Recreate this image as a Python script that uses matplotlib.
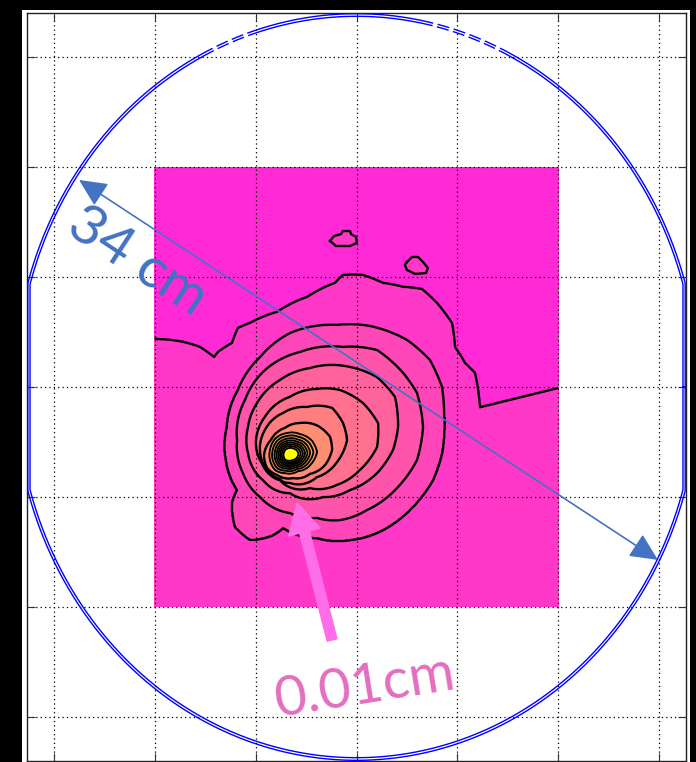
import numpy as np
import matplotlib
matplotlib.use('Agg')
import matplotlib.pyplot as plt
from matplotlib.patches import Rectangle

# ---- values (cm) ----
PEAK = (-3.30, -3.09)          # hot spot
MAP_X = [-10.0, 10.0]
MAP_Y = [-10.0, 10.0]

# lowest contour: open line across the map (left edge -> right edge)
LEVEL1_LINE = [(-9.94, 2.18), (-8.60, 2.05), (-7.76, 1.82), (-7.06, 1.36), (-6.87, 1.59),
               (-6.17, 2.00), (-5.88, 2.68), (-5.28, 2.91), (-3.94, 3.41), (-2.45, 4.09),
               (-1.07, 4.73), (-0.67, 5.09), (0.32, 5.09), (1.31, 4.73), (2.31, 4.55),
               (3.25, 4.45), (3.99, 3.82), (4.73, 2.91), (4.88, 1.82), (5.38, 1.09),
               (5.87, 0.64), (6.12, -0.93)]
LEVEL1_ISLANDS = [
    [(-1.31, 6.64), (-1.12, 6.86), (-0.77, 6.95), (-0.67, 7.09), (-0.32, 7.09), (-0.27, 6.95),
     (-0.02, 6.82), (0.02, 6.55), (-0.32, 6.41), (-1.02, 6.41)],
    [(2.50, 5.68), (2.75, 5.91), (3.05, 5.91), (3.30, 5.68), (3.54, 5.41), (3.45, 5.18),
     (2.90, 5.14), (2.50, 5.32), (2.40, 5.55)],
]
LEVEL2 = [(-0.97, 2.82), (0.67, 2.77), (2.50, 2.14), (3.64, 1.23), (4.24, 0.00), (4.34, -1.18),
          (4.24, -3.00), (3.79, -4.23), (2.80, -5.45), (1.31, -6.50), (-0.32, -6.95),
          (-1.96, -6.86), (-3.64, -6.41), (-4.14, -6.73), (-5.28, -6.95), (-6.02, -6.36),
          (-6.17, -5.27), (-5.92, -4.68), (-6.47, -3.32), (-6.42, -1.82), (-5.88, -0.14),
          (-4.78, 1.36), (-3.30, 2.45)]
LEVEL3 = [(-0.67, 1.82), (1.02, 1.68), (2.31, 0.64), (3.00, -0.27), (3.30, -1.82), (3.00, -3.32),
          (2.01, -4.59), (0.52, -5.59), (-0.82, -6.05), (-1.96, -5.95), (-3.30, -5.73),
          (-4.78, -5.00), (-5.63, -3.91), (-5.92, -2.41), (-5.53, -0.59), (-4.54, 0.77),
          (-2.80, 1.59)]
LEVEL4 = [(-0.32, 0.91), (1.02, 0.45), (1.91, -0.45), (2.06, -1.82), (1.81, -2.86), (1.02, -3.91),
          (-0.32, -4.68), (-1.66, -5.00), (-3.30, -4.82), (-4.64, -4.23), (-5.38, -3.00),
          (-5.38, -1.82), (-4.93, -0.73), (-3.79, 0.32), (-2.31, 0.86)]
LEVEL5 = [(-0.82, -0.14), (0.32, -0.73), (1.07, -1.64), (1.02, -2.73), (0.17, -3.77),
          (-0.97, -4.45), (-2.31, -4.59), (-3.79, -4.23), (-4.69, -3.45), (-4.98, -2.41),
          (-4.54, -1.36), (-3.30, -0.45), (-1.96, -0.09)]
LEVEL6 = [(-1.21, -0.95), (-0.67, -1.64), (-0.47, -2.41), (-0.97, -3.41), (-1.96, -4.09),
          (-3.30, -4.36), (-4.29, -3.91), (-4.78, -3.00), (-4.54, -1.95), (-3.64, -1.18),
          (-2.45, -0.91)]
LEVEL7 = [(-2.80, -1.64), (-1.91, -1.77), (-1.31, -2.27), (-1.21, -2.86), (-1.56, -3.55),
          (-2.31, -3.95), (-3.15, -4.14), (-3.94, -4.00), (-4.44, -3.68), (-4.59, -3.09),
          (-4.24, -2.41), (-3.54, -1.86)]
# tight rings round the hot spot: outer ring + relative sizes of the rings inside it
TIGHT_RING = [(-4.29, -2.86), (-4.04, -2.36), (-3.45, -2.10), (-2.80, -2.15), (-2.21, -2.45),
              (-1.96, -2.95), (-2.21, -3.45), (-2.90, -3.82), (-3.54, -3.91), (-4.04, -3.77),
              (-4.29, -3.32)]
TIGHT_SCALE = [1.0, 0.87, 0.75, 0.65, 0.56, 0.48, 0.40, 0.32]

CIRCLE_R = [16.97, 16.85]       # phantom outline (double line), 34 cm
CIRCLE_XCAP = [16.30, 16.19]
CIRCLE_DASHED_X = [(-7.11, -5.03), (3.79, 7.16)]   # top parts that show as dashed
DIAM_ENDS = [(-13.76, 9.41), (14.95, -7.86)]
DIAM_TEXT = '34 cm'
DIAM_TEXT_XY = (-10.88, 5.68)
SPOT_TAIL = (-1.21, -11.50)
SPOT_TIP = (-2.95, -5.27)
SPOT_TEXT = '0.01cm'
SPOT_TEXT_XY = (0.42, -13.64)

TICKS_X = [-15, -10, -5, 0, 5, 10, 15]
TICKS_Y = [-15, -10, -5, 0, 5, 10, 15]


def ring_radius(pts, th):
    p = np.asarray(pts, dtype=float) - PEAK
    a = np.arctan2(p[:, 1], p[:, 0])
    r = np.hypot(p[:, 0], p[:, 1])
    o = np.argsort(a)
    return np.interp(th, a[o], r[o], period=2 * np.pi)


def open_level(line):
    # close the open line far outside the map so it runs off the map edges
    p = np.asarray(line, dtype=float) - PEAK
    a = np.arctan2(p[:, 1], p[:, 0])
    a0, a1 = a[0], a[-1]
    far_a = np.linspace(a0 + 0.01, a1 + 2 * np.pi - 0.01, 24)
    far = np.c_[80 * np.cos(far_a), 80 * np.sin(far_a)] + PEAK
    return np.vstack([np.asarray(line), far])


gx = np.linspace(MAP_X[0], MAP_X[1], 801)
gy = np.linspace(MAP_Y[0], MAP_Y[1], 801)
X, Y = np.meshgrid(gx, gy)
th = np.arctan2(Y - PEAK[1], X - PEAK[0])
rr = np.hypot(X - PEAK[0], Y - PEAK[1])

rings = [open_level(LEVEL1_LINE), LEVEL2, LEVEL3, LEVEL4, LEVEL5, LEVEL6, LEVEL7]
n_wide = len(rings)
radii = [ring_radius(lv, th) for lv in rings]
tight = ring_radius(TIGHT_RING, th)
radii += [s * tight for s in TIGHT_SCALE]
for k in range(1, len(radii)):
    radii[k] = np.minimum(radii[k], radii[k - 1] * 0.97)
K = len(radii)

Z = np.where(rr >= radii[0], radii[0] / np.maximum(rr, 1e-9), 0.0)
for k in range(K - 1):
    ro, ri = radii[k], radii[k + 1]
    m = (rr < ro) & (rr >= ri)
    Z[m] = (k + 1) + ((ro - rr) / np.maximum(ro - ri, 1e-9))[m]
m = rr < radii[-1]
Z[m] = K + (1 - rr / radii[-1])[m]

fill_colors = plt.cm.spring(np.linspace(0.165, 1.0, K + 1))

# ---- figure ----
fig = plt.figure(figsize=(6.96, 7.62), dpi=100, facecolor='black')
fig.add_artist(Rectangle((22 / 696, 0), 668 / 696, 752 / 762, transform=fig.transFigure,
                         facecolor='white', edgecolor='none', zorder=-10))
ax = fig.add_axes([27 / 696, 1 / 762, 659 / 696, 748 / 762])
ax.set_facecolor('white')

levels = [-1] + list(range(1, K + 1)) + [K + 2]
ax.contourf(gx, gy, Z, levels=levels, colors=fill_colors, zorder=1)
ax.contour(gx, gy, Z, levels=list(range(1, n_wide + 1)), colors='k', linewidths=1.7, zorder=2)
ax.contour(gx, gy, Z, levels=list(range(n_wide + 1, K + 1)), colors='k', linewidths=1.35, zorder=2)
for isl in LEVEL1_ISLANDS:
    isl = np.asarray(isl)
    ax.fill(isl[:, 0], isl[:, 1], color=fill_colors[1], zorder=2)
    ax.plot(np.r_[isl[:, 0], isl[0, 0]], np.r_[isl[:, 1], isl[0, 1]], color='k', lw=1.7, zorder=2)

t = np.linspace(0, 2 * np.pi, 1441)
for r, cap in zip(CIRCLE_R, CIRCLE_XCAP):
    ax.plot(np.clip(r * np.cos(t), -cap, cap), r * np.sin(t), color='#0000FF', lw=1.0, zorder=3)
# white dashes breaking the outline near the top
rmid = np.mean(CIRCLE_R)
for xa, xb in CIRCLE_DASHED_X:
    ta = np.linspace(np.arccos(xa / rmid), np.arccos(xb / rmid), 60)
    ax.plot(rmid * np.cos(ta), rmid * np.sin(ta), color='white', lw=4,
            linestyle=(0, (0.8, 2.2)), solid_capstyle='butt', zorder=3.5)

ax.annotate('', xy=DIAM_ENDS[1], xytext=DIAM_ENDS[0],
            arrowprops=dict(arrowstyle='<|-|>,head_length=0.95,head_width=0.45', color='#4472C4',
                            lw=1.2, mutation_scale=18, shrinkA=0, shrinkB=0), zorder=4)
ax.text(DIAM_TEXT_XY[0], DIAM_TEXT_XY[1], DIAM_TEXT, color='#4472C4', fontsize=41,
        family='Lato', rotation=-33.3, rotation_mode='anchor', ha='center', va='center', zorder=4)

ax.annotate('', xy=SPOT_TIP, xytext=SPOT_TAIL,
            arrowprops=dict(arrowstyle='simple,head_length=1.2,head_width=1.3,tail_width=0.4',
                            color='#FF6EE8', mutation_scale=18, shrinkA=0, shrinkB=0), zorder=4)
ax.text(SPOT_TEXT_XY[0], SPOT_TEXT_XY[1], SPOT_TEXT, color='#E46EBE', fontsize=40,
        family='Lato', rotation=9, rotation_mode='anchor', ha='center', va='center', zorder=4)

ax.set_xlim(-16.34, 16.34)
ax.set_ylim(-17, 17)
ax.set_xticks(TICKS_X)
ax.set_yticks(TICKS_Y)
ax.set_xticklabels([])
ax.set_yticklabels([])
ax.tick_params(direction='in', length=5.5, width=0.8, color='#333333',
               top=True, right=True)
ax.set_axisbelow(False)
ax.grid(True, color='black', linestyle=(0, (1, 2.5)), linewidth=0.9)
for s in ax.spines.values():
    s.set_color('#222222')
    s.set_linewidth(1.0)

fig.savefig('out.png', dpi=100, facecolor=fig.get_facecolor())
